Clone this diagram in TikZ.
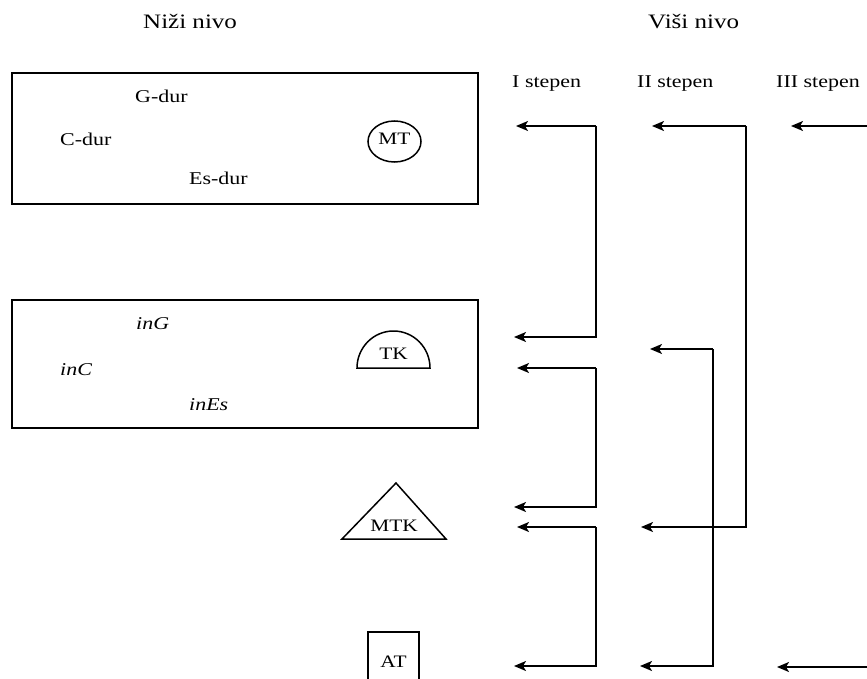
\documentclass[tikz,border=0pt]{standalone}
\usepackage{fontspec}
\setmainfont{Liberation Serif}[FakeStretch=1.22]
\usetikzlibrary{arrows.meta}
\begin{document}
\begin{tikzpicture}[x=1pt,y=-1pt,
  lbl/.style={inner sep=0pt,anchor=base west,font=\fontsize{18}{21}\selectfont},
  head/.style={inner sep=0pt,anchor=base west,font=\fontsize{20.5}{24}\selectfont},
  sym/.style={inner sep=0pt,anchor=base,font=\fontsize{17.5}{20}\selectfont},
  frame/.style={draw,line width=1.7pt},
  shp/.style={line width=1.5pt},
  conn/.style={line width=1.6pt,-{Stealth[length=12pt,width=10pt,inset=3pt]}}]
\useasboundingbox (0,0) rectangle (867,679);
% headings
\node[head] (lower) at (143,29) {Niži nivo};
\node[head] (upper) at (648,29) {Viši nivo};
\node[lbl] (s1) at (512,88) {I stepen};
\node[lbl] (s2) at (637,88) {II stepen};
\node[lbl] (s3) at (776,88) {III stepen};
% boxes
\node[frame,minimum width=466pt,minimum height=131pt,anchor=north west,inner sep=0pt] (box1) at (11,72) {};
\node[frame,minimum width=466pt,minimum height=128pt,anchor=north west,inner sep=0pt] (box2) at (11,299) {};
\node[lbl] (gdur) at (135,103) {G-dur};
\node[lbl] (cdur) at (60,146) {C-dur};
\node[lbl] (esdur) at (189,185) {Es-dur};
\node[lbl] (ing) at (136,329) {\itshape inG};
\node[lbl] (inc) at (60,375) {\itshape inC};
\node[lbl] (ines) at (189,410) {\itshape inEs};
% symbols
\draw[shp] (394.5,141.5) ellipse [x radius=26.5pt, y radius=20.5pt];
\node[sym] (mt) at (394.5,145) {MT};
\draw[shp] (357,368) arc[start angle=180,end angle=0,x radius=36.5pt,y radius=37pt] -- cycle;
\node[sym] (tk) at (393.5,359) {TK};
\draw[shp] (396,483) -- (342,539) -- (446,539) -- cycle;
\node[sym] (mtk) at (394,531) {MTK};
\draw[shp] (368,680) -- (368,632) -- (419,632) -- (419,680);
\node[sym] (at) at (393.5,667) {AT};
% connector points
\coordinate (a1s) at (596,126); \coordinate (a1e) at (514,337);
\coordinate (a2s) at (596,368); \coordinate (a2e) at (514,507);
\coordinate (a3s) at (596,527); \coordinate (a3e) at (514,666);
\coordinate (b1s) at (746,126); \coordinate (b1t) at (652,126); \coordinate (b1e) at (641,527);
\coordinate (b2s) at (713,349); \coordinate (b2t) at (650,349); \coordinate (b2e) at (640,666);
\coordinate (c1s) at (868,126); \coordinate (c1e) at (791,126);
\coordinate (c2s) at (868,667); \coordinate (c2e) at (777,667);
\coordinate (a1t) at (516,126); \coordinate (a2t) at (517,368); \coordinate (a3t) at (517,527);
% I stepen
\draw[conn] (a1s) -- (a1t);
\draw[conn] (a1s) |- (a1e);
\draw[conn] (a2s) -- (a2t);
\draw[conn] (a2s) |- (a2e);
\draw[conn] (a3s) -- (a3t);
\draw[conn] (a3s) |- (a3e);
% II stepen
\draw[conn] (b1s) -- (b1t);
\draw[conn] (b1s) |- (b1e);
\draw[conn] (b2s) -- (b2t);
\draw[conn] (b2s) |- (b2e);
% III stepen
\draw[conn] (c1s) -- (c1e);
\draw[conn] (c2s) -- (c2e);
\end{tikzpicture}
\end{document}
